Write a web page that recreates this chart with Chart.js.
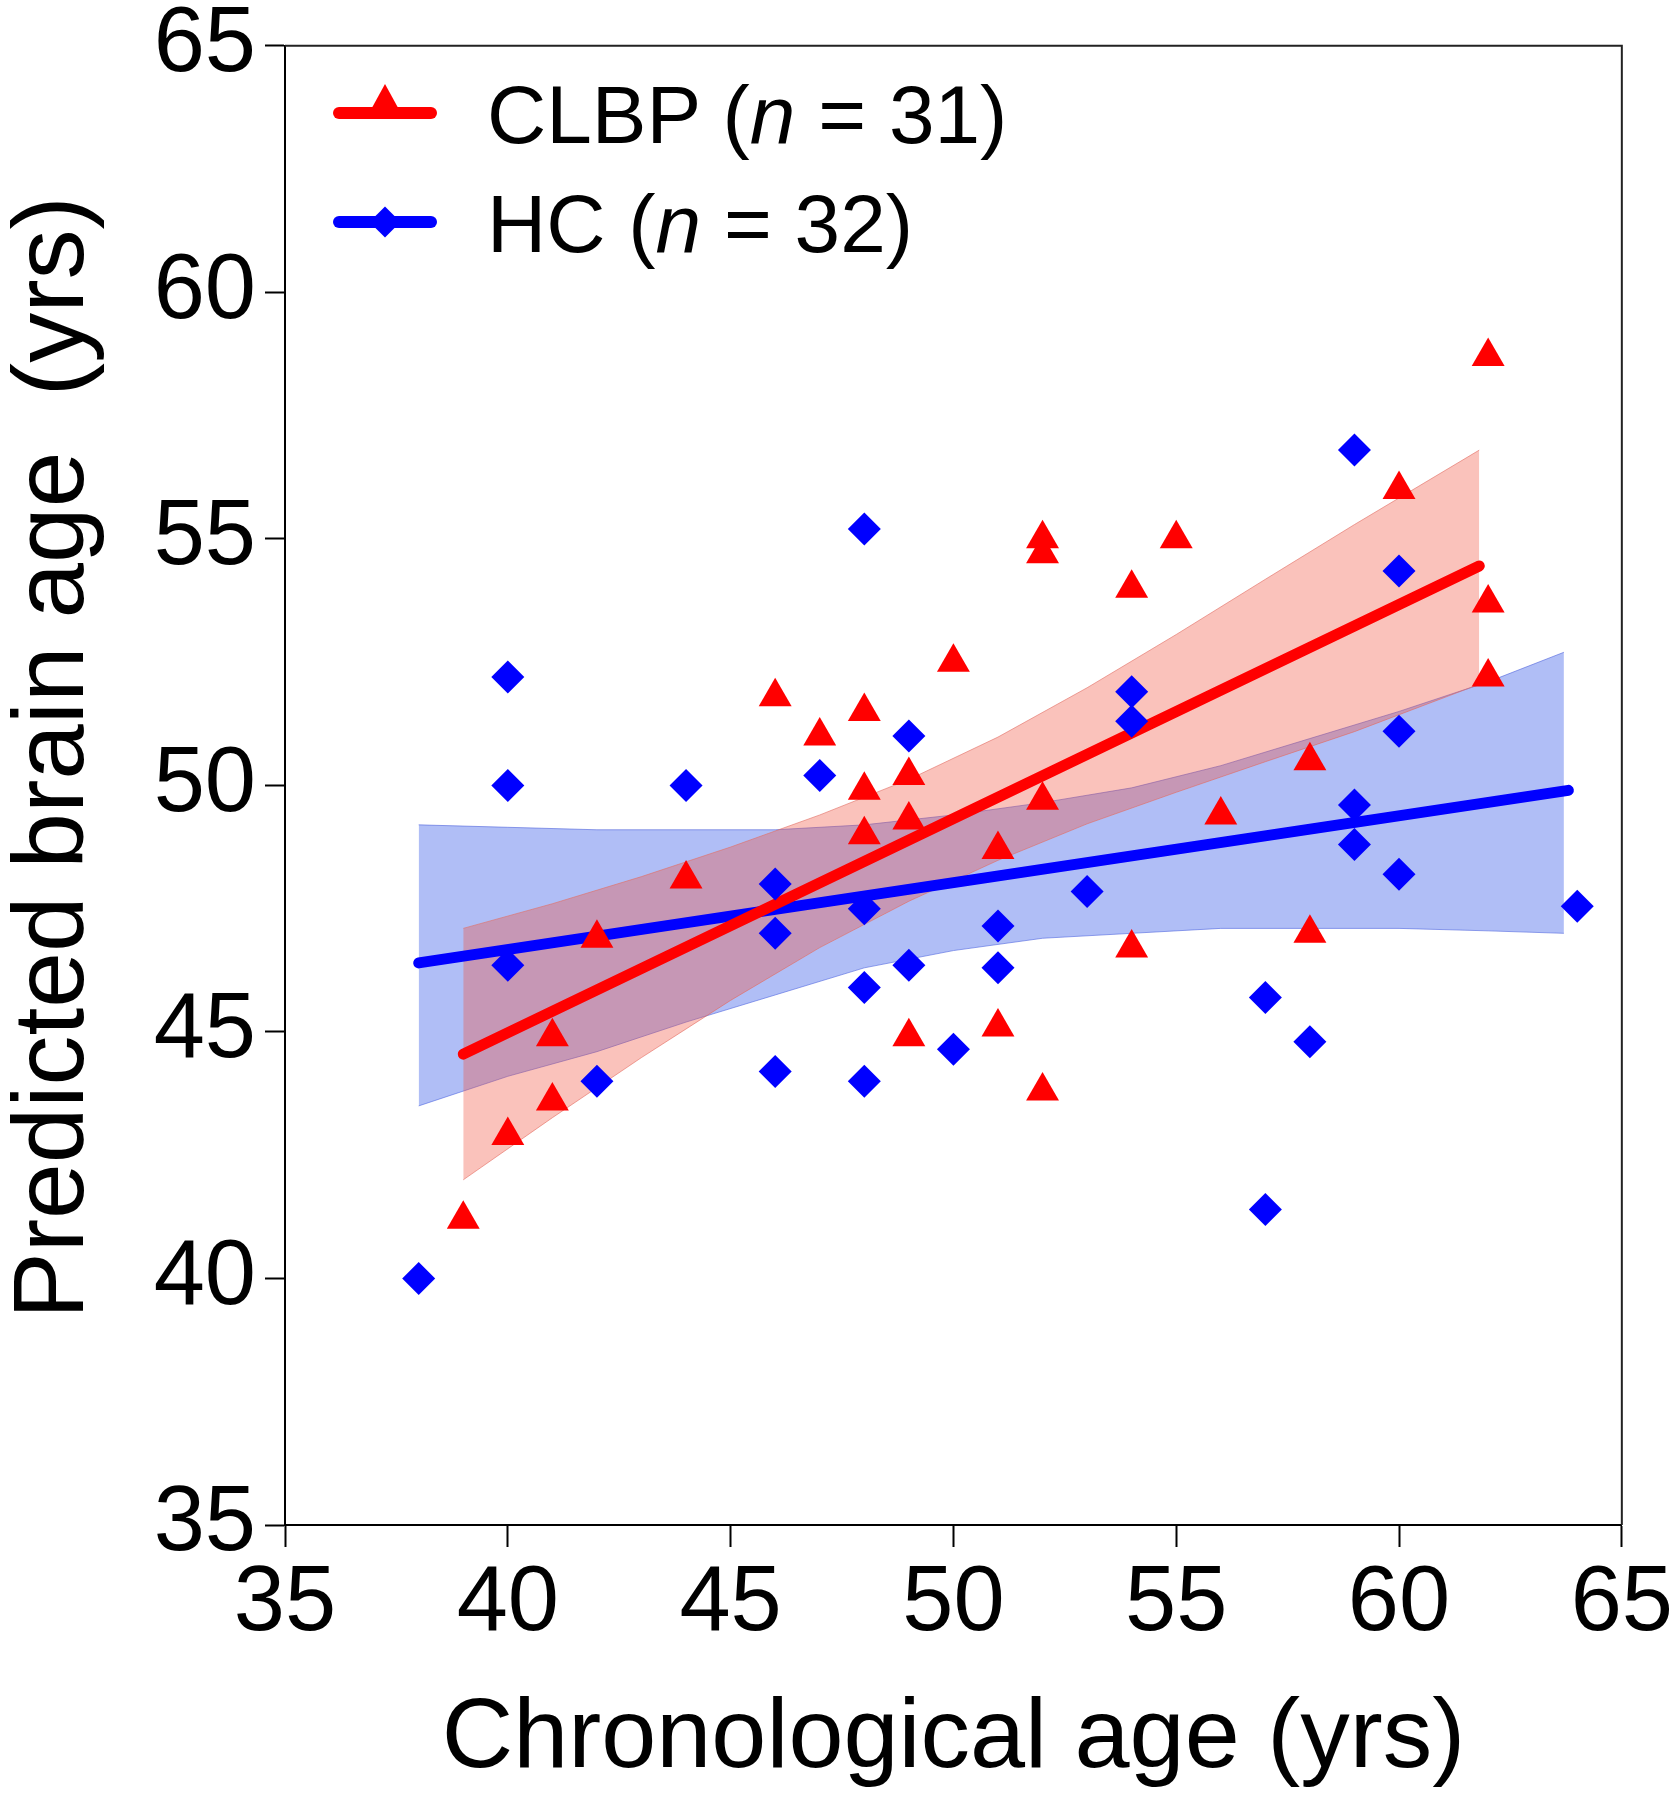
<!DOCTYPE html>
<html lang="en">
  <head>
    <meta charset="UTF-8" />
    <title>Predicted brain age vs chronological age</title>
    <script src="https://cdn.jsdelivr.net/npm/chart.js"></script>
    <style>
      html,
      body {
        margin: 0;
        padding: 0;
        background: #ffffff;
        overflow: hidden;
      }

      .wrap {
        position: relative;
        width: 1675px;
        height: 1800px;
      }

      .legend-row {
        position: absolute;
        left: 333px;
        height: 40px;
      }

      .legend-bar {
        position: absolute;
        left: 0;
        width: 104px;
        height: 12px;
        border-radius: 6px;
      }

      .legend-tri {
        position: absolute;
        left: 35px;
        width: 0;
        height: 0;
        border-left: 17px solid transparent;
        border-right: 17px solid transparent;
        border-bottom: 31px solid #ff0000;
      }

      .legend-dia {
        position: absolute;
        left: 41px;
        width: 22px;
        height: 22px;
        background: #0000ff;
        transform: rotate(45deg);
      }

      .legend-text {
        position: absolute;
        left: 154px;
        white-space: nowrap;
        font-family: "Liberation Sans", Arial, sans-serif;
        font-size: 82px;
        line-height: 82px;
        color: #000;
      }
    </style>
  </head>

  <body>
    <div class="wrap">
      <canvas id="ageChart"></canvas>
      <div id="legend"></div>
    </div>

    <script>
      // axis ticks
      const xTicks = [35, 40, 45, 50, 55, 60, 65];
      const yTicks = [35, 40, 45, 50, 55, 60, 65];

      // groups
      const groupNames = ["CLBP", "HC"];
      const groupCounts = [31, 32];

      // CLBP individual subjects
      const clbpAge = [39, 40, 41, 41, 42, 44, 46, 47, 48, 48, 48, 49, 49, 49, 50, 51, 51, 52, 52, 52, 52, 54, 54, 55, 56, 58, 58, 60, 62, 62, 62];
      const clbpBrain = [41.2, 42.9, 43.6, 44.9, 46.9, 48.1, 51.8, 51.0, 51.5, 49.9, 49.0, 50.2, 49.3, 44.9, 52.5, 48.7, 45.1, 55.0, 54.7, 49.7, 43.8, 54.0, 46.7, 55.0, 49.4, 50.5, 47.0, 56.0, 58.7, 53.7, 52.2];

      // HC individual subjects
      const hcAge = [38, 40, 40, 40, 42, 44, 46, 46, 46, 47, 48, 48, 48, 48, 49, 49, 50, 51, 51, 53, 54, 54, 57, 57, 58, 59, 59, 59, 60, 60, 60, 64];
      const hcBrain = [40.0, 52.2, 50.0, 46.35, 44.0, 50.0, 48.0, 47.0, 44.2, 50.2, 55.2, 47.5, 45.9, 44.0, 51.0, 46.35, 44.65, 47.15, 46.3, 47.85, 51.9, 51.3, 45.7, 41.4, 44.8, 56.8, 49.6, 48.8, 54.35, 51.1, 48.2, 47.55];

      // fitted lines (end points)
      const clbpFitX = [39, 61.8];
      const clbpFitY = [44.55, 54.45];
      const hcFitX = [38, 63.8];
      const hcFitY = [46.4, 49.9];

      // confidence bands
      const clbpBandX = [39, 41, 43, 45, 47, 49, 51, 53, 55, 57, 59, 61.8];
      const clbpBandUp = [47.1, 47.6, 48.15, 48.75, 49.4, 50.12, 50.98, 51.98, 53.06, 54.18, 55.29, 56.8];
      const clbpBandLo = [42.0, 43.26, 44.48, 45.64, 46.71, 47.65, 48.48, 49.22, 49.86, 50.48, 51.09, 52.05];

      const hcBandX = [38, 40, 42, 44, 46, 48, 50, 52, 54, 56, 58, 60, 62, 63.7];
      const hcBandUp = [49.2, 49.15, 49.1, 49.1, 49.1, 49.2, 49.4, 49.65, 49.95, 50.4, 50.95, 51.5, 52.1, 52.7];
      const hcBandLo = [43.5, 44.1, 44.6, 45.2, 45.75, 46.3, 46.65, 46.9, 47.0, 47.1, 47.1, 47.1, 47.05, 47.0];

      const FONT = "'Liberation Sans', Arial, sans-serif";

      function pts(xs, ys) {
        return xs.map((x, i) => ({ x: x, y: ys[i] }));
      }

      // legend (html so the italic n stays real text)
      const legendEl = document.getElementById("legend");
      const rowTops = [93, 202];
      groupNames.forEach((name, i) => {
        const color = i === 0 ? "#ff0000" : "#0000ff";
        const sym =
          i === 0
            ? '<span class="legend-tri" style="top:-9px"></span>'
            : '<span class="legend-dia" style="top:9px"></span>';
        legendEl.innerHTML +=
          '<div class="legend-row" style="top:' + rowTops[i] + 'px">' +
          '<span class="legend-bar" style="top:14px;background:' + color + '"></span>' +
          sym +
          '<span class="legend-text" style="top:-19px">' +
          name + " (<i>n</i> = " + groupCounts[i] + ")</span></div>";
      });

      // top and right frame lines
      const framePlugin = {
        id: "frame",
        afterDraw(chart) {
          const a = chart.chartArea;
          const ctx = chart.ctx;
          ctx.save();
          ctx.strokeStyle = "#222";
          ctx.lineWidth = 2;
          ctx.beginPath();
          ctx.moveTo(a.left, a.top);
          ctx.lineTo(a.right, a.top);
          ctx.lineTo(a.right, a.bottom);
          ctx.stroke();
          ctx.restore();
        },
      };

      const ctx = document.getElementById("ageChart").getContext("2d");
      new Chart(ctx, {
        type: "line",
        data: {
          datasets: [
            {
              label: groupNames[0],
              data: pts(clbpAge, clbpBrain),
              showLine: false,
              pointStyle: "triangle",
              pointRadius: 19,
              backgroundColor: "#ff0000",
              borderColor: "#ff0000",
              pointBorderWidth: 0,
              order: 0,
            },
            {
              label: groupNames[1],
              data: pts(hcAge, hcBrain),
              showLine: false,
              pointStyle: "rectRot",
              pointRadius: 16.5,
              backgroundColor: "#0000ff",
              borderColor: "#0000ff",
              pointBorderWidth: 0,
              order: 1,
            },
            {
              label: "CLBP fit",
              data: pts(clbpFitX, clbpFitY),
              borderColor: "#ff0000",
              borderWidth: 11,
              borderCapStyle: "round",
              pointRadius: 0,
              fill: false,
              order: 2,
            },
            {
              label: "HC fit",
              data: pts(hcFitX, hcFitY),
              borderColor: "#0000ff",
              borderWidth: 11,
              borderCapStyle: "round",
              pointRadius: 0,
              fill: false,
              order: 3,
            },
            {
              label: "CLBP band upper",
              data: pts(clbpBandX, clbpBandUp),
              borderColor: "rgba(225,110,100,0.6)",
              borderWidth: 1,
              pointRadius: 0,
              fill: { target: 5 },
              backgroundColor: "rgba(240,80,60,0.35)",
              order: 4,
            },
            {
              label: "CLBP band lower",
              data: pts(clbpBandX, clbpBandLo),
              borderColor: "rgba(225,110,100,0.6)",
              borderWidth: 1,
              pointRadius: 0,
              fill: false,
              order: 4,
            },
            {
              label: "HC band upper",
              data: pts(hcBandX, hcBandUp),
              borderColor: "rgba(80,100,220,0.6)",
              borderWidth: 1,
              pointRadius: 0,
              fill: { target: 7 },
              backgroundColor: "rgba(80,110,235,0.45)",
              order: 5,
            },
            {
              label: "HC band lower",
              data: pts(hcBandX, hcBandLo),
              borderColor: "rgba(80,100,220,0.6)",
              borderWidth: 1,
              pointRadius: 0,
              fill: false,
              order: 5,
            },
          ],
        },
        options: {
          responsive: true,
          maintainAspectRatio: false,
          animation: false,
          layout: {
            autoPadding: false,
            padding: { top: 38, right: 50, bottom: 0, left: 0 },
          },
          plugins: {
            legend: { display: false },
            tooltip: { enabled: false },
          },
          scales: {
            x: {
              type: "linear",
              min: xTicks[0],
              max: xTicks[xTicks.length - 1],
              afterFit(scale) {
                scale.height = 275;
              },
              afterBuildTicks(scale) {
                scale.ticks = xTicks.map((v) => ({ value: v }));
              },
              border: { display: true, color: "#000", width: 2 },
              grid: {
                drawOnChartArea: false,
                drawTicks: true,
                tickLength: 22,
                tickWidth: 2,
                tickColor: "#000",
              },
              ticks: {
                color: "#000",
                padding: 2,
                maxRotation: 0,
                font: { family: FONT, size: 92, lineHeight: 1.22 },
              },
              title: {
                display: true,
                text: "Chronological age (yrs)",
                color: "#000",
                padding: { top: 0, bottom: 1 },
                font: { family: FONT, size: 99, lineHeight: 1.2 },
              },
            },
            y: {
              type: "linear",
              min: yTicks[0],
              max: yTicks[yTicks.length - 1],
              afterFit(scale) {
                scale.width = 285;
              },
              afterBuildTicks(scale) {
                scale.ticks = yTicks.map((v) => ({ value: v }));
              },
              border: { display: true, color: "#000", width: 2 },
              grid: {
                drawOnChartArea: false,
                drawTicks: true,
                tickLength: 20,
                tickWidth: 2,
                tickColor: "#000",
              },
              ticks: {
                color: "#000",
                padding: 9,
                font: { family: FONT, size: 92, lineHeight: 0.8 },
              },
              title: {
                display: true,
                text: "  Predicted brain age  (yrs)",
                color: "#000",
                padding: { top: 0, bottom: 0 },
                font: { family: FONT, size: 100, lineHeight: 1.1 },
              },
            },
          },
        },
        plugins: [framePlugin],
      });
    </script>
  </body>
</html>
